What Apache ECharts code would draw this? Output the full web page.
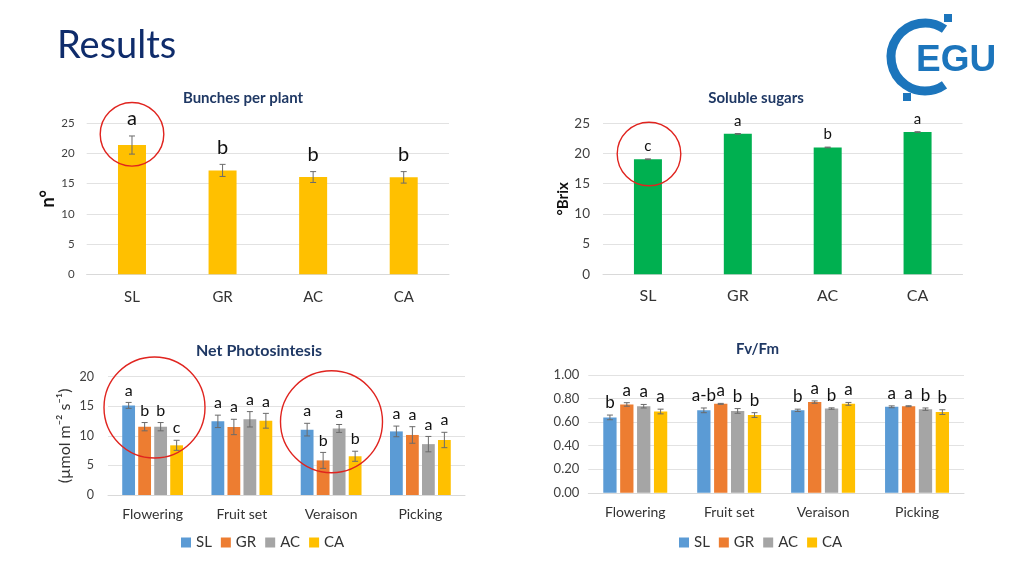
<!DOCTYPE html>
<html><head><meta charset="utf-8">
<script src="https://cdn.jsdelivr.net/npm/echarts@6/dist/echarts.min.js"></script>
<style>html,body{margin:0;padding:0;background:#fff}#c{width:1024px;height:576px}</style>
</head><body><div id="c"></div>
<script>
// ---------- data ----------
const treatments = ['SL', 'GR', 'AC', 'CA'];
const stages = ['Flowering', 'Fruit set', 'Veraison', 'Picking'];

const bunches = [21.4, 17.2, 16.1, 16.05];
const bunchesErr = [1.5, 1.0, 0.9, 0.95];
const bunchesLetters = ['a', 'b', 'b', 'b'];

const sugars = [19.05, 23.25, 21.0, 23.55];
const sugarsErr = [0.06, 0.06, 0.06, 0.06];
const sugarsLetters = ['c', 'a', 'b', 'a'];

const photoSL = [15.15, 12.45, 11.05, 10.75];
const photoGR = [11.55, 11.5, 5.85, 10.15];
const photoAC = [11.55, 12.8, 11.25, 8.6];
const photoCA = [8.4, 12.55, 6.55, 9.3];
const photoErrSL = [0.5, 1.05, 1.07, 0.9];
const photoErrGR = [0.7, 1.3, 1.35, 1.4];
const photoErrAC = [0.7, 1.3, 0.67, 1.3];
const photoErrCA = [0.85, 1.25, 0.85, 1.3];
const photoLetSL = ['a', 'a', 'a', 'a'];
const photoLetGR = ['b', 'a', 'b', 'a'];
const photoLetAC = ['b', 'a', 'a', 'a'];
const photoLetCA = ['c', 'a', 'b', 'a'];

const fvSL = [0.64, 0.70, 0.70, 0.73];
const fvGR = [0.75, 0.755, 0.77, 0.735];
const fvAC = [0.735, 0.695, 0.715, 0.71];
const fvCA = [0.69, 0.66, 0.755, 0.685];
const fvErrSL = [0.02, 0.02, 0.01, 0.008];
const fvErrGR = [0.015, 0.004, 0.01, 0.004];
const fvErrAC = [0.015, 0.02, 0.006, 0.01];
const fvErrCA = [0.02, 0.02, 0.012, 0.02];
const fvLetSL = ['b', 'a-b', 'b', 'a'];
const fvLetGR = ['a', 'a', 'a', 'a'];
const fvLetAC = ['a', 'b', 'b', 'b'];
const fvLetCA = ['a', 'b', 'a', 'b'];

const bunchTicks = { min: 0, max: 25, interval: 5 };
const sugarTicks = { min: 0, max: 25, interval: 5 };
const photoTicks = { min: 0, max: 20, interval: 5 };
const fvTicks = { min: 0, max: 1, interval: 0.2 };

// ---------- style ----------
const FONT = 'Lato';
const colors = { SL: '#5B9BD5', GR: '#ED7D31', AC: '#A5A5A5', CA: '#FFC000' };
const gridColor = '#E2E2E2';
const titleColor = '#1F3864';

function errSeries(name, idx, vals, errs, letters, offset, fontSize, gap) {
  return {
    type: 'custom', name: name, xAxisIndex: idx, yAxisIndex: idx, z: 5,
    silent: true,
    data: vals.map((v, i) => [i, v, errs[i]]),
    encode: { x: 0, y: 1 },
    renderItem: function (params, api) {
      const x = api.value(0), v = api.value(1), e = api.value(2);
      const t = api.coord([x, v + e]);
      const b = api.coord([x, v - e]);
      const cx = t[0] + offset;
      const st = { stroke: '#6B6B6B', lineWidth: 1 };
      return {
        type: 'group', children: [
          { type: 'line', shape: { x1: cx, y1: t[1], x2: cx, y2: b[1] }, style: st },
          { type: 'line', shape: { x1: cx - 3, y1: t[1], x2: cx + 3, y2: t[1] }, style: st },
          { type: 'line', shape: { x1: cx - 3, y1: b[1], x2: cx + 3, y2: b[1] }, style: st },
          { type: 'text', style: { x: cx, y: t[1] - gap, text: letters[params.dataIndex],
              fill: '#111', font: fontSize + 'px ' + FONT, align: 'center', verticalAlign: 'bottom' } }
        ]
      };
    }
  };
}

function xAxis(idx, data, fontSize, margin) {
  return { type: 'category', gridIndex: idx, data: data,
    axisLine: { lineStyle: { color: '#D9D9D9' } }, axisTick: { show: false },
    axisLabel: { fontSize: fontSize, color: '#333', margin: margin, fontFamily: FONT } };
}
function yAxis(idx, ticks, fontSize, margin, fmt, name, nameStyle, nameGap) {
  return { type: 'value', gridIndex: idx, min: ticks.min, max: ticks.max, interval: ticks.interval,
    axisLine: { show: false }, axisTick: { show: false },
    splitLine: { lineStyle: { color: gridColor } },
    axisLabel: { fontSize: fontSize, color: '#404040', margin: margin, fontFamily: FONT, formatter: fmt },
    name: name, nameLocation: 'middle', nameGap: nameGap, nameTextStyle: nameStyle };
}

const series = [];
series.push({ type: 'bar', name: 'Bunches', xAxisIndex: 0, yAxisIndex: 0, data: bunches,
  barWidth: 28, itemStyle: { color: '#FFC000' } });
series.push(errSeries('BunchesErr', 0, bunches, bunchesErr, bunchesLetters, 0, 20, 7));
series.push({ type: 'bar', name: 'Sugars', xAxisIndex: 1, yAxisIndex: 1, data: sugars,
  barWidth: 28, itemStyle: { color: '#00B050' } });
series.push(errSeries('SugarsErr', 1, sugars, sugarsErr, sugarsLetters, 0, 15, 5));

const photoVals = [photoSL, photoGR, photoAC, photoCA];
const photoErrs = [photoErrSL, photoErrGR, photoErrAC, photoErrCA];
const photoLets = [photoLetSL, photoLetGR, photoLetAC, photoLetCA];
const fvVals = [fvSL, fvGR, fvAC, fvCA];
const fvErrs = [fvErrSL, fvErrGR, fvErrAC, fvErrCA];
const fvLets = [fvLetSL, fvLetGR, fvLetAC, fvLetCA];

const pBW = 12.8, pGap = 0.25, fBW = 13.3, fGap = 0.27;
treatments.forEach((t, i) => {
  series.push({ type: 'bar', name: t, xAxisIndex: 2, yAxisIndex: 2, data: photoVals[i],
    barWidth: pBW, barGap: (pGap * 100) + '%', itemStyle: { color: colors[t] } });
});
treatments.forEach((t, i) => {
  series.push(errSeries(t + 'pe', 2, photoVals[i], photoErrs[i], photoLets[i],
    (i - 1.5) * pBW * (1 + pGap), 16, 4));
});
treatments.forEach((t, i) => {
  series.push({ type: 'bar', name: t, xAxisIndex: 3, yAxisIndex: 3, data: fvVals[i],
    barWidth: fBW, barGap: (fGap * 100) + '%', itemStyle: { color: colors[t] } });
});
treatments.forEach((t, i) => {
  series.push(errSeries(t + 'fe', 3, fvVals[i], fvErrs[i], fvLets[i],
    (i - 1.5) * fBW * (1 + fGap), 17, 4));
});

function circle(cx, cy, r) {
  return { type: 'circle', shape: { cx: cx, cy: cy, r: r }, z: 100,
    style: { fill: 'none', stroke: '#E0241F', lineWidth: 1.4 } };
}
function title(text, x, y, size) {
  return { type: 'text', z: 100, style: { x: x, y: y, text: text, fill: titleColor,
    font: 'bold ' + size + 'px ' + FONT, align: 'center', verticalAlign: 'middle' } };
}
const logoBlue = '#1C75BC';

const option = {
  backgroundColor: '#fff',
  animation: false,
  textStyle: { fontFamily: FONT },
  grid: [
    { left: 86.7, top: 123.3, width: 362.3, height: 151 },
    { left: 603, top: 123.3, width: 359.5, height: 151 },
    { left: 108, top: 376.7, width: 357, height: 118.3 },
    { left: 588.3, top: 375, width: 375.7, height: 117.8 }
  ],
  xAxis: [
    xAxis(0, treatments, 15, 15),
    xAxis(1, treatments, 16, 14),
    xAxis(2, stages, 14, 12),
    xAxis(3, stages, 14, 13)
  ],
  yAxis: [
    yAxis(0, bunchTicks, 11.5, 12, null, 'n°', { fontSize: 18, fontWeight: 'bold', color: '#111', fontFamily: FONT }, 24),
    yAxis(1, sugarTicks, 13.5, 13, null, '°Brix', { fontSize: 15, fontWeight: 'bold', color: '#111', fontFamily: FONT }, 32),
    yAxis(2, photoTicks, 12.5, 14, null, '(µmol m⁻² s⁻¹)', { fontSize: 16, color: '#333', fontFamily: FONT }, 35),
    yAxis(3, fvTicks, 13, 9, v => v.toFixed(2), '', {}, 30)
  ],
  legend: [
    { data: treatments, left: 176, top: 530, icon: 'rect', itemWidth: 10, itemHeight: 10, itemGap: 9,
      textStyle: { fontSize: 15, color: '#333', fontFamily: FONT } },
    { data: treatments, left: 674, top: 530, icon: 'rect', itemWidth: 10, itemHeight: 10, itemGap: 9,
      textStyle: { fontSize: 15, color: '#333', fontFamily: FONT } }
  ],
  series: series,
  graphic: [
    { type: 'text', z: 100, style: { x: 57, y: 46, text: 'Results', fill: '#0F2C6B',
      font: '38px ' + FONT, align: 'left', verticalAlign: 'middle' } },
    title('Bunches per plant', 243, 98.5, 15),
    title('Soluble sugars', 756, 98.5, 15),
    title('Net Photosintesis', 259, 351, 16),
    title('Fv/Fm', 757.5, 349.5, 15),
    circle(132, 134.3, 31.8),
    circle(649, 154, 31.8),
    circle(154.5, 407.5, 50.5),
    circle(331.5, 421.7, 51),
    // EGU logo
    { type: 'arc', z: 100, shape: { cx: 925, cy: 57, r: 34, startAngle: -55 * Math.PI / 180, endAngle: 55 * Math.PI / 180, clockwise: false },
      style: { fill: 'none', stroke: logoBlue, lineWidth: 9 } },
    { type: 'rect', z: 100, shape: { x: 944, y: 14, width: 8, height: 8 }, style: { fill: logoBlue } },
    { type: 'rect', z: 100, shape: { x: 903, y: 93, width: 8, height: 8 }, style: { fill: logoBlue } },
    { type: 'text', z: 100, style: { x: 916, y: 61, text: 'EGU', fill: logoBlue,
      font: 'bold 37px "Liberation Sans"', align: 'left', verticalAlign: 'middle' } }
  ]
};
const chart = echarts.init(document.getElementById('c'), null, { renderer: 'canvas' });
chart.setOption(option);
</script>
</body></html>
